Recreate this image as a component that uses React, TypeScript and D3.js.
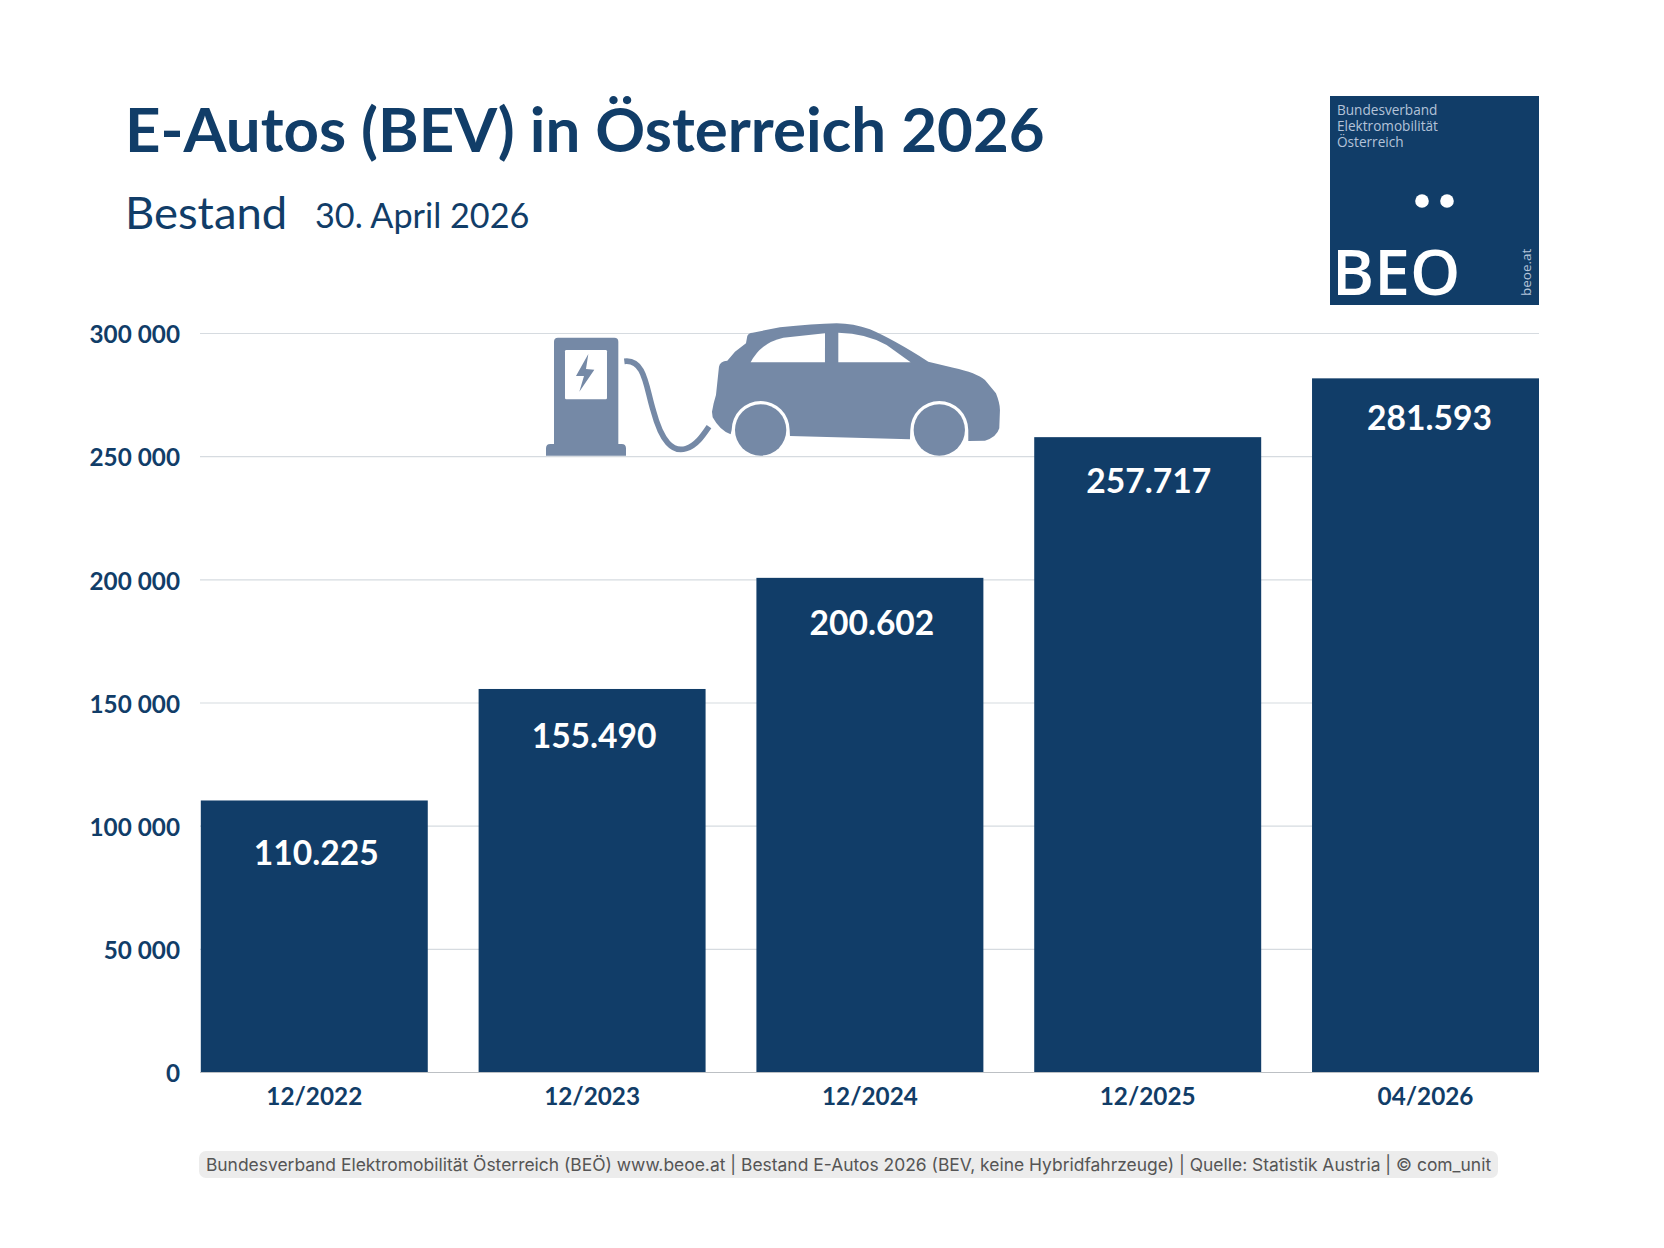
import React, { useEffect, useRef } from 'react';
import * as d3 from 'd3';

const periods = ['12/2022', '12/2023', '12/2024', '12/2025', '04/2026'];
const stock = [110225, 155490, 200602, 257717, 281593];
const stockLabels = ['110.225', '155.490', '200.602', '257.717', '281.593'];
const yTicks = [0, 50000, 100000, 150000, 200000, 250000, 300000];
const yTickLabels = ['0', '50 000', '100 000', '150 000', '200 000', '250 000', '300 000'];

// hand placed in the original slide, so each label sits a bit differently under the bar top
const labelDrop = [65, 59, 57, 56, 52];
const labelShift = [2, 2, 2, 1, 4];

const W = 1664;
const H = 1248;
const NAVY = '#113d68';
const ICON = '#7589a6';
const FONT = 'Lato, sans-serif';

const App: React.FC = () => {
  const svgRef = useRef<SVGSVGElement>(null);

  useEffect(() => {
    if (!svgRef.current) return;
    const svg = d3.select(svgRef.current);
    svg.selectAll('*').remove();

    svg.append('rect').attr('width', W).attr('height', H).attr('fill', '#fff');

    const x = d3.scaleBand<string>().domain(periods).range([200.8, 1539]).paddingInner(0.183).paddingOuter(0);
    const y = d3.scaleLinear().domain([0, 300000]).range([1072, 333]);

    // Gridlines + y labels
    const yAxis = svg.append('g')
      .attr('transform', 'translate(200,0)')
      .call(d3.axisLeft(y).tickValues(yTicks).tickSize(0).tickPadding(20)
        .tickFormat((_, i) => yTickLabels[i]));
    yAxis.select('.domain').remove();
    yAxis.selectAll('text')
      .attr('dy', '0.4em')
      .attr('fill', NAVY)
      .style('font-family', FONT)
      .style('font-size', '24.3px')
      .style('font-weight', 700);
    yAxis.selectAll('.tick')
      .append('line')
      .attr('x2', 1339)
      .attr('stroke', (d) => (d === 0 ? '#bcc0c4' : '#d6dbe0'))
      .attr('stroke-width', 1.2);

    // Charger + car
    const icon = svg.append('g').attr('transform', 'translate(520,300) scale(0.3333)');
    icon.append('path').attr('fill', ICON)
      .attr('d', 'M102 125 Q102 113 114 113 H283 Q295 113 295 125 V432 H305 Q318 432 318 445 V467 H78 V445 Q78 432 91 432 H102 Z');
    icon.append('rect').attr('x', 135).attr('y', 150).attr('width', 126).attr('height', 148).attr('rx', 4).attr('fill', '#fff');
    icon.append('path').attr('fill', ICON).attr('d', 'M205 162 L168 228 L192 228 L178 275 L223 209 L198 207 Z');
    icon.append('path').attr('fill', 'none').attr('stroke', ICON).attr('stroke-width', 17)
      .attr('d', 'M313 184 C375 176 378 262 400 332 C425 425 458 458 498 446 C530 436 550 405 567 380');
    icon.append('path').attr('fill', ICON)
      .attr('d', 'M576 335 Q580 310 588 285 L597 200 Q600 184 622 182 L645 155 L678 130 L682 108 Q685 99 698 98 L780 82 Q880 72 950 70 Q1000 70 1050 88 Q1120 118 1225 185 L1300 203 Q1370 218 1395 240 L1428 280 Q1440 310 1440 330 L1438 385 Q1430 412 1395 422 L1345 423 L1345 390 A87 87 0 0 0 1171 390 L1170 418 L810 408 L809 390 A87 87 0 0 0 635 390 L632 403 Q600 392 578 352 Z');
    icon.append('path').attr('fill', '#fff').attr('d', 'M692 187 Q722 128 790 113 L915 100 V187 Z');
    icon.append('path').attr('fill', '#fff').attr('d', 'M955 98 Q1040 100 1100 135 L1172 187 H955 Z');
    icon.append('circle').attr('cx', 722).attr('cy', 390).attr('r', 77).attr('fill', ICON);
    icon.append('circle').attr('cx', 1258).attr('cy', 390).attr('r', 77).attr('fill', ICON);

    // Bars
    svg.append('g').selectAll('rect')
      .data(stock)
      .enter()
      .append('rect')
      .attr('x', (_, i) => x(periods[i]) as number)
      .attr('y', (d) => y(d))
      .attr('width', x.bandwidth())
      .attr('height', (d) => y(0) - y(d))
      .attr('fill', NAVY);

    svg.append('g').selectAll('text')
      .data(stock)
      .enter()
      .append('text')
      .attr('x', (_, i) => (x(periods[i]) as number) + x.bandwidth() / 2 + labelShift[i])
      .attr('y', (d, i) => y(d) + labelDrop[i])
      .attr('text-anchor', 'middle')
      .attr('fill', '#fff')
      .style('font-family', FONT)
      .style('font-size', '33.6px')
      .style('font-weight', 700)
      .text((_, i) => stockLabels[i]);

    // X labels
    const xAxis = svg.append('g')
      .attr('transform', 'translate(0,1072)')
      .call(d3.axisBottom(x).tickSize(0).tickPadding(16));
    xAxis.select('.domain').remove();
    xAxis.selectAll('text')
      .attr('fill', NAVY)
      .style('font-family', FONT)
      .style('font-size', '24.3px')
      .style('font-weight', 700);

    // Title block
    const label = (px: number, py: number, txt: string, size: number, weight: number, fill = NAVY) =>
      svg.append('text').attr('x', px).attr('y', py).attr('fill', fill)
        .style('font-family', FONT).style('font-size', `${size}px`).style('font-weight', weight).text(txt);

    label(125, 152, 'E-Autos (BEV) in Österreich 2026', 61.8, 700);
    label(125, 229, 'Bestand', 45.4, 400);
    label(315, 228, '30. April 2026', 34.2, 400);

    // BEÖ logo
    svg.append('rect').attr('x', 1330).attr('y', 96).attr('width', 209).attr('height', 209).attr('fill', NAVY);
    ['Bundesverband', 'Elektromobilität', 'Österreich'].forEach((t, i) => {
      label(1337, 115 + i * 16, t, 13.6, 400, '#b4c3d9').style('font-family', '"Open Sans", sans-serif');
    });
    svg.append('circle').attr('cx', 1422).attr('cy', 201).attr('r', 6.8).attr('fill', '#fff');
    svg.append('circle').attr('cx', 1447).attr('cy', 201).attr('r', 6.8).attr('fill', '#fff');
    label(1332, 295, 'BEO', 64, 600, '#fff').style('font-family', '"Open Sans", sans-serif');
    svg.append('text')
      .attr('transform', 'translate(1531,296) rotate(-90)')
      .attr('fill', '#b4c3d9')
      .style('font-family', '"Open Sans", sans-serif')
      .style('font-size', '13.5px')
      .text('beoe.at');

    // Footer
    svg.append('rect').attr('x', 199).attr('y', 1151).attr('width', 1299).attr('height', 27).attr('rx', 7).attr('fill', '#ececec');
    svg.append('text')
      .attr('x', 848.5)
      .attr('y', 1171)
      .attr('text-anchor', 'middle')
      .attr('fill', '#555')
      .style('font-family', 'Inter, sans-serif')
      .style('font-size', '17.45px')
      .text('Bundesverband Elektromobilität Österreich (BEÖ) www.beoe.at | Bestand E-Autos 2026 (BEV, keine Hybridfahrzeuge) | Quelle: Statistik Austria | © com_unit');
  }, []);

  return (
    <svg
      ref={svgRef}
      width={W}
      height={H}
      viewBox={`0 0 ${W} ${H}`}
      style={{ position: 'absolute', left: 0, top: 0, display: 'block' }}
    />
  );
};

export default App;
